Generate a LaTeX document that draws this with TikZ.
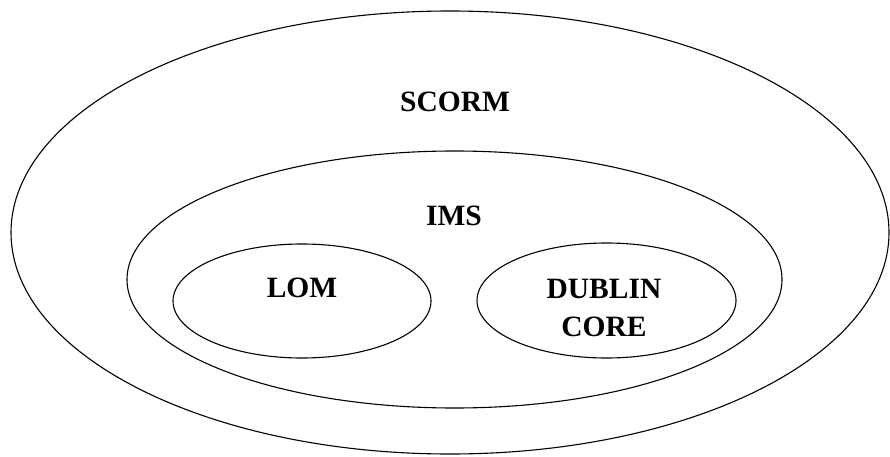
\documentclass[tikz,border=0pt]{standalone}
\usepackage{fontspec}
\setmainfont{Liberation Serif}
\usetikzlibrary{shapes.geometric}
\begin{document}
\begin{tikzpicture}[x=1pt,y=-1pt,
  ring/.style={draw=black,line width=1.1pt,ellipse,inner sep=0pt},
  lbl/.style={font=\fontsize{29.5}{38}\selectfont\bfseries,align=center,inner sep=0pt}]
\useasboundingbox (0,0) rectangle (890,457);
\node[ring,minimum width=878pt,minimum height=443pt] (scorm) at (450,232.5) {};
\node[ring,minimum width=655pt,minimum height=257pt] (ims) at (454.5,279.5) {};
\node[ring,minimum width=258pt,minimum height=114pt] (lom) at (302,301) {};
\node[ring,minimum width=259pt,minimum height=115pt] (dc) at (606.5,300.5) {};
\node[lbl] (tscorm) at (455,102) {SCORM};
\node[lbl] (tims) at (454,216) {IMS};
\node[lbl] (tlom) at (302,288) {LOM};
\node[lbl] (tdc) at (604,308) {DUBLIN\\CORE};
\end{tikzpicture}
\end{document}
